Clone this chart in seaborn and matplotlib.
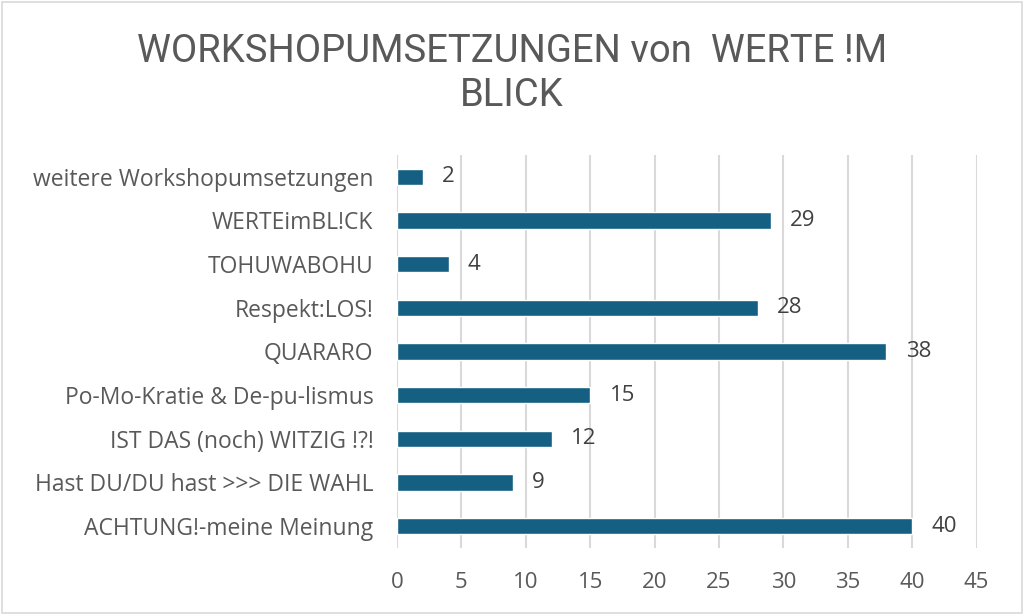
import pandas as pd
import matplotlib
matplotlib.use("Agg")
from matplotlib import pyplot as plt
from matplotlib import font_manager
import seaborn as sns

# Werte aus dem Diagramm
workshops = ["weitere Workshopumsetzungen", "WERTEimBL!CK", "TOHUWABOHU",
             "Respekt:LOS!", "QUARARO", "Po-Mo-Kratie & De-pu-lismus",
             "IST DAS (noch) WITZIG !?!", "Hast DU/DU hast >>> DIE WAHL",
             "ACHTUNG!-meine Meinung"]
anzahl = [2, 29, 4, 28, 38, 15, 12, 9, 40]
x_ticks = [0, 5, 10, 15, 20, 25, 30, 35, 40, 45]

df = pd.DataFrame({"Workshop": workshops, "Anzahl": anzahl})

sns.set_theme(style="white")
installed = {f.name for f in font_manager.fontManager.ttflist}
narrow = "Liberation Sans Narrow" if "Liberation Sans Narrow" in installed else "Roboto"
plt.rcParams["font.family"] = ["Open Sans", "DejaVu Sans"]

fig = plt.figure(figsize=(10.24, 6.15), dpi=100)
ax = fig.add_axes([0.3877, 0.109, 0.566, 0.639])

sns.barplot(data=df, x="Anzahl", y="Workshop", color="#156082",
            width=0.37, ax=ax, saturation=1, zorder=3)

ax.set_xlim(0, 45)
ax.set_ylim(8.5, -0.5)
ax.set_xticks(x_ticks)
ax.xaxis.grid(True, color="#d9d9d9", linewidth=1.5, zorder=0)
ax.yaxis.grid(False)
for s in ax.spines.values():
    s.set_visible(False)
ax.set_xlabel("")
ax.set_ylabel("")
ax.tick_params(axis="y", length=0, pad=17, labelsize=16.5, labelcolor="#595959")
ax.tick_params(axis="x", length=0, pad=17, labelsize=16, labelcolor="#595959")

for i, v in enumerate(anzahl):
    ax.text(v + 1.5, i, str(v), va="center", ha="left", fontsize=16, color="#404040")

fig.text(0.5, 0.880, "WORKSHOPUMSETZUNGEN von  WERTE !M\nBLICK", ha="center", va="center",
         fontsize=27.5, color="#595959", family=[narrow, "DejaVu Sans"], linespacing=1.25)

fig.patches.append(plt.Rectangle((0.002, 0.003), 0.996, 0.994, transform=fig.transFigure,
                                 fill=False, edgecolor="#d9d9d9", linewidth=1.2))

fig.savefig("out.png", dpi=100, facecolor="white")
